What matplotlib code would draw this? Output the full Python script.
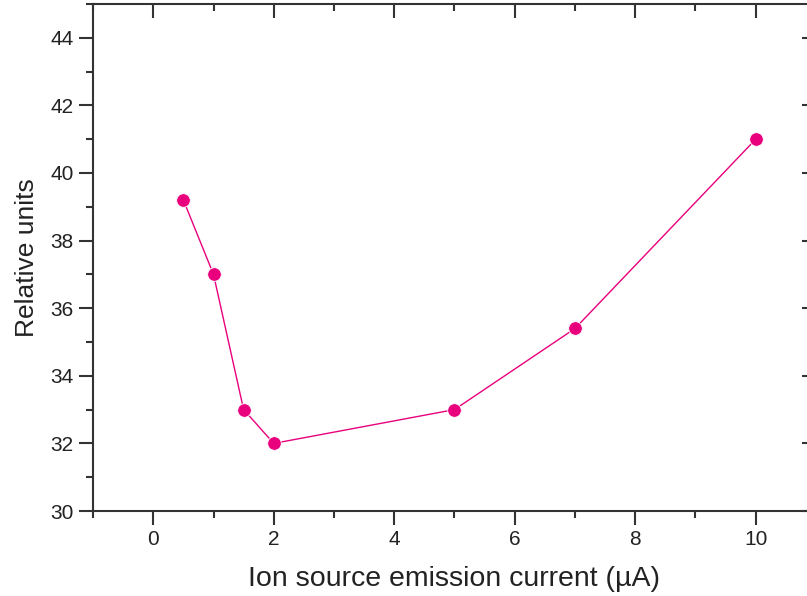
import matplotlib
matplotlib.use('Agg')
import matplotlib.pyplot as plt
from matplotlib.lines import TICKDOWN, TICKLEFT
from matplotlib.ticker import MultipleLocator

current_uA = [0.5, 1.0, 1.5, 2.0, 5.0, 7.0, 10.0]
rel_units = [39.2, 37.0, 33.0, 32.0, 33.0, 35.4, 41.0]

plt.rcParams['font.family'] = ['Liberation Sans', 'DejaVu Sans']

fig = plt.figure(figsize=(8.07, 5.96), dpi=100)
# right spine sits just outside the picture, as in the reference
ax = fig.add_axes([93 / 807, 1 - 511 / 596, (816 - 93) / 807, (511 - 4) / 596])

ax.plot(current_uA, rel_units, '-', color='#E8007D', linewidth=1.0,
        marker='o', markersize=9.8, markeredgecolor='white', markeredgewidth=0.6)

ax.set_xlim(-1, 11)
ax.set_ylim(30, 45)
ax.xaxis.set_major_locator(MultipleLocator(2))
ax.xaxis.set_minor_locator(MultipleLocator(1))
ax.yaxis.set_major_locator(MultipleLocator(2))
ax.yaxis.set_minor_locator(MultipleLocator(1))

for s in ax.spines.values():
    s.set_linewidth(1.5)
    s.set_color('#333333')

ax.tick_params(which='major', direction='out', length=10, width=1.5, color='#333333',
               labelsize=15, labelcolor='#222222', pad=4)
ax.tick_params(which='minor', direction='out', length=5, width=1.5, color='#333333')
ax.tick_params(which='both', top=True, right=True)

# top/right ticks point inward
for axis, mk in ((ax.xaxis, TICKDOWN), (ax.yaxis, TICKLEFT)):
    for t in axis.get_major_ticks():
        t.tick2line.set_marker(mk)
        t.tick2line.set_markersize(10)
    for t in axis.get_minor_ticks():
        t.tick2line.set_marker(mk)
        t.tick2line.set_markersize(5)

ax.set_xlabel('Ion source emission current (\u00b5A)', fontsize=20.5, color='#222222', labelpad=12)
ax.set_ylabel('Relative units', fontsize=19, color='#222222', labelpad=8)

fig.savefig('out.png', dpi=100)
